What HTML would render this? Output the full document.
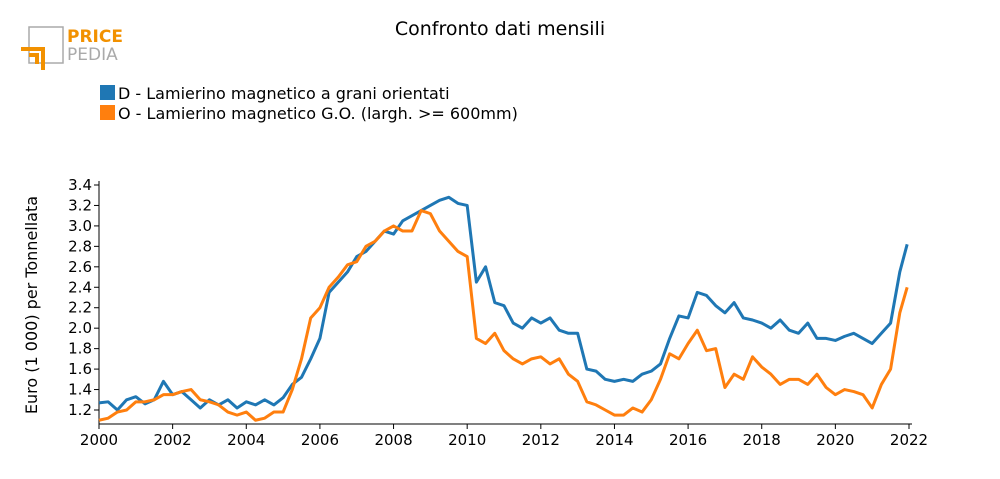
<!DOCTYPE html>
<html><head><meta charset="utf-8"><style>
body{margin:0;background:#fff;font-family:"DejaVu Sans","Liberation Sans",sans-serif}
</style></head><body>
<svg width="1000" height="475" xmlns="http://www.w3.org/2000/svg">
<g>
<rect x="29" y="27" width="34" height="36" fill="none" stroke="#aaa" stroke-width="1.5"/>
<path d="M21 49 H43 V70" fill="none" stroke="#f29100" stroke-width="4"/>
<path d="M29 55 H37 V64" fill="none" stroke="#f29100" stroke-width="4"/>
<text x="67" y="42" font-size="17" font-weight="bold" fill="#f29100">PRICE</text>
<text x="67" y="60" font-size="17" fill="#aaa">PEDIA</text>
</g>
<text x="500" y="35" text-anchor="middle" font-size="19">Confronto dati mensili</text>
<g>
<rect x="100" y="85" width="15" height="15" fill="#1f77b4"/>
<text x="118" y="99" font-size="16">D - Lamierino magnetico a grani orientati</text>
<rect x="100" y="105" width="15" height="15" fill="#ff7f0e"/>
<text x="118" y="119" font-size="16">O - Lamierino magnetico G.O. (largh. &gt;= 600mm)</text>
</g>
<g id="axes"></g>
<g id="series"></g>
<text transform="translate(37,305) rotate(-90)" text-anchor="middle" font-size="16">Euro (1 000) per Tonnellata</text>
</svg>
<script>
const xTicks=[2000,2002,2004,2006,2008,2010,2012,2014,2016,2018,2020,2022];
const yTicks=[1.2,1.4,1.6,1.8,2.0,2.2,2.4,2.6,2.8,3.0,3.2,3.4];
const seriesD=[1.27,1.28,1.20,1.30,1.33,1.26,1.30,1.48,1.35,1.38,1.30,1.22,1.30,1.25,1.30,1.22,1.28,1.25,1.30,1.25,1.32,1.45,1.52,1.70,1.90,2.35,2.45,2.55,2.70,2.75,2.85,2.95,2.92,3.05,3.10,3.15,3.20,3.25,3.28,3.22,3.20,2.45,2.60,2.25,2.22,2.05,2.00,2.10,2.05,2.10,1.98,1.95,1.95,1.60,1.58,1.50,1.48,1.50,1.48,1.55,1.58,1.65,1.90,2.12,2.10,2.35,2.32,2.22,2.15,2.25,2.10,2.08,2.05,2.00,2.08,1.98,1.95,2.05,1.90,1.90,1.88,1.92,1.95,1.90,1.85,1.95,2.05,2.55,2.82];
const seriesO=[1.10,1.12,1.18,1.20,1.28,1.28,1.30,1.35,1.35,1.38,1.40,1.30,1.28,1.25,1.18,1.15,1.18,1.10,1.12,1.18,1.18,1.40,1.70,2.10,2.20,2.40,2.50,2.62,2.65,2.80,2.85,2.95,3.00,2.95,2.95,3.15,3.12,2.95,2.85,2.75,2.70,1.90,1.85,1.95,1.78,1.70,1.65,1.70,1.72,1.65,1.70,1.55,1.48,1.28,1.25,1.20,1.15,1.15,1.22,1.18,1.30,1.50,1.75,1.70,1.85,1.98,1.78,1.80,1.42,1.55,1.50,1.72,1.62,1.55,1.45,1.50,1.50,1.45,1.55,1.42,1.35,1.40,1.38,1.35,1.22,1.45,1.60,2.15,2.40];
const X=t=>99+(t-2000)*(810/22);
const Y=v=>410-(v-1.2)*(225/2.2);
const NS="http://www.w3.org/2000/svg";
const ax=document.getElementById('axes');
function mk(tag,attrs,parent){const e=document.createElementNS(NS,tag);for(const k in attrs)e.setAttribute(k,attrs[k]);parent.appendChild(e);return e;}
const xl=mk('line',{x1:99,y1:424,x2:912,y2:424,stroke:'#000'},ax);


const yl=mk('line',{x1:99,y1:181,x2:99,y2:424,stroke:'#000'},ax);


xTicks.forEach(t=>{mk('line',{x1:X(t),y1:424,x2:X(t),y2:429,stroke:'#000'},ax);
const tx=mk('text',{x:X(t),y:445,'text-anchor':'middle','font-size':15},ax);tx.textContent=t;

});
yTicks.forEach(v=>{mk('line',{x1:94,y1:Y(v),x2:99,y2:Y(v),stroke:'#000'},ax);
const tx=mk('text',{x:92,y:Y(v)+5,'text-anchor':'end','font-size':15},ax);tx.textContent=v.toFixed(1);

});
const sg=document.getElementById('series');
[[seriesD,'#1f77b4','series-d-line'],[seriesO,'#ff7f0e','series-o-line']].forEach(([d,c,n])=>{
const pts=d.map((v,i)=>X(2000+i*0.25-(i==d.length-1?0.05:0))+','+Y(v)).join(' ');
const p=mk('polyline',{points:pts,fill:'none',stroke:c,'stroke-width':3,'stroke-linejoin':'round'},sg);

});
</script>
</body></html>
